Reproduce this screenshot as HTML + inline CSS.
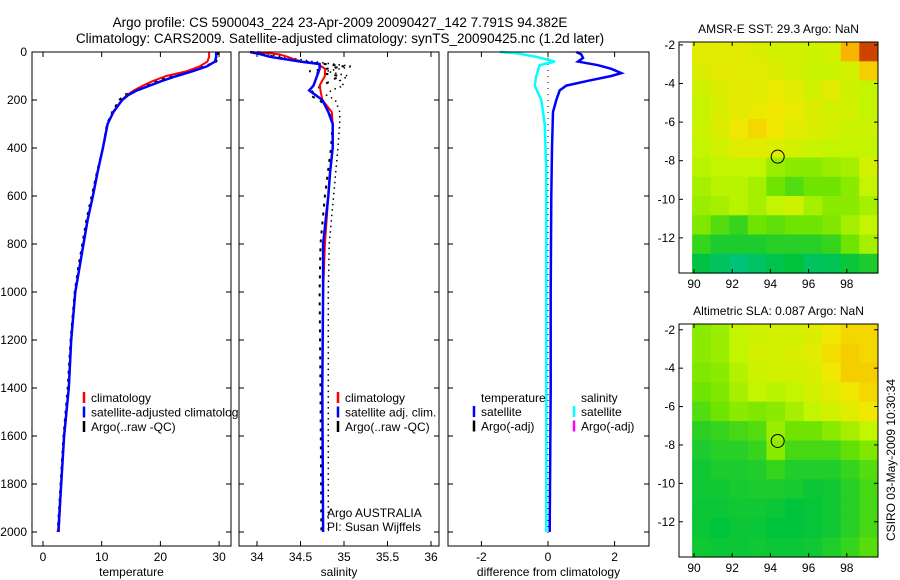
<!DOCTYPE html>
<html><head><meta charset="utf-8"><style>
body{margin:0;background:#fff}
svg{display:block;font-family:"Liberation Sans",sans-serif}
</style></head><body>
<svg id="fig" width="900" height="580" viewBox="0 0 900 580">
<text x="340" y="27" font-size="13.5" text-anchor="middle">Argo profile: CS 5900043_224 23-Apr-2009 20090427_142 7.791S 94.382E</text>
<text x="340" y="43" font-size="13.5" text-anchor="middle">Climatology: CARS2009. Satellite-adjusted climatology: synTS_20090425.nc (1.2d later)</text>
</svg>
<script>
const depths=[0,20,40,60,80,100,120,140,160,180,200,250,300,400,500,600,700,800,900,1000,1200,1400,1600,1800,2000];
const tempClim=[28.3,28.3,28.0,26.7,24.5,21,18.8,17,15.5,14.3,13.4,12,11,10.2,9.3,8.5,7.6,6.9,6.2,5.5,4.8,4.4,3.6,3.1,2.7];
const tempSat=[29.5,29.5,29.3,27.9,25.5,22.8,20.3,18.2,16,14.5,13.5,12,11,10.2,9.3,8.5,7.6,6.9,6.2,5.5,4.8,4.4,3.6,3.1,2.6];
const tempArgo=[29.8,29.8,29.5,27.5,25,22,19.5,17.5,15.8,13.8,13,11.8,10.9,10.2,9.2,8.3,7.4,6.7,6,5.4,4.7,4.2,3.5,3.0,2.5];
const salDepths=[0,10,20,40,50,70,100,140,160,200,250,300,400,500,600,800,1000,1400,2000];
const salClim=[34.0,34.26,34.35,34.5,34.7,34.78,34.78,34.72,34.73,34.75,34.86,34.87,34.87,34.84,34.82,34.78,34.76,34.75,34.76];
const salSat=[33.92,34.05,34.15,34.5,34.72,34.72,34.69,34.65,34.6,34.75,34.82,34.87,34.87,34.84,34.82,34.76,34.76,34.75,34.76];
const argoSalDepths=[0,20,40,60,80,100,120,140,160,180,200,250,300,400,600,800,1000,1400,2000];
const salArgo=[33.95,34.2,34.55,35.0,34.6,34.95,34.85,34.75,34.65,34.6,34.72,34.85,34.87,34.85,34.78,34.73,34.72,34.73,34.74];
const salRaw=[34.0,34.3,34.65,35.1,34.8,35.05,34.95,35.0,34.85,34.8,34.9,34.95,34.95,34.93,34.88,34.83,34.82,34.82,34.82];
const diffDepths=[0,10,25,40,55,70,88,100,120,140,160,200,250,400,600,1000,1400,2000];
const diffTempSat=[0.85,1.0,1.05,0.9,1.5,1.9,2.2,1.9,1.2,0.55,0.35,0.25,0.15,0.12,0.1,0.08,0.08,0.05];
const diffSalDepths=[0,5,20,40,55,100,140,200,300,500,1000,1500,2000];
const diffSalSat=[-1.45,-0.95,-0.35,0.2,-0.25,-0.35,-0.4,-0.2,-0.1,-0.05,-0.05,-0.05,-0.05];
const yTicks=[0,200,400,600,800,1000,1200,1400,1600,1800,2000];
const tempTicks=[0,10,20,30];
const salTicks=[34,34.5,35,35.5,36];
const salTickLabels=["34","34.5","35","35.5","36"];
const diffTicks=[-2,0,2];
const lonTicks=[90,92,94,96,98];
const latTicks=[-2,-4,-6,-8,-10,-12];
const sstGrid=[
[6.5,6.5,6.5,6.3,6,6,5.8,6,8,9.5],
[6.3,6.6,6.5,6.5,6.3,6,5.7,5.7,6,7.5],
[5.8,6.3,6.6,6.5,6.8,6.5,6,6.5,5.8,5.5],
[5.6,6.2,6.6,6.8,7,6.8,6.3,6,6,5.5],
[5.7,6.3,7,7.3,7,6.5,6.3,6,5.7,5.7],
[5.5,6,6.5,6.5,6.3,6,5.7,5.5,5.5,5.5],
[5.3,5.5,5.5,5.5,4.8,4.5,4.5,4.8,5,6],
[5,5.3,5.3,5,4,3.5,4,4,4.5,5.5],
[4.8,5,5.3,5,5.5,5.8,5,4.5,4.5,5],
[4.3,3.5,3,4,3.7,4,4,4.3,5,5.5],
[3,2.5,2.5,2.5,2.7,2.7,2.7,3,4,5],
[1.8,1.3,0.8,1.2,1.7,2,1.3,1.5,2.2,2.5]];
const slaGrid=[
[4.5,4.8,5.5,5.8,6,6,6.3,7,7.3,7.3],
[4.5,4.8,5.5,6,6,6.2,6.5,7.2,7.5,7.3],
[4.3,4.5,5.2,5.8,6,6,6.2,7,7.5,7.5],
[4,4.3,5,5.5,5.3,5.5,6,6.5,7,7.3],
[3.5,4,4.5,4.3,4.5,5,5.5,6,6.5,7],
[2.8,3,3.3,3.5,4.8,4,4,4.5,5,5.5],
[2.5,2.7,2.7,3,4.5,3.3,3.3,3.3,3.8,4.3],
[2.3,2.5,2.5,2.6,3,2.6,2.6,2.6,3,3.5],
[2.3,2.3,2.4,2.5,2.5,2.4,2.2,2.3,2.7,3.3],
[2.2,2.2,2.3,2.3,2.2,2.0,2.1,2.3,2.7,3.3],
[2.2,2.0,2.2,2.2,2.0,2.0,2.1,2.3,2.7,3.3],
[2.3,2.2,2.2,2.3,2.2,2.2,2.3,2.6,3,3.6]];
const argoLon=94.382, argoLat=-7.791;

const NS="http://www.w3.org/2000/svg";
const svg=document.getElementById('fig');
function mk(tag,attrs,parent){const e=document.createElementNS(NS,tag);for(const k in attrs)e.setAttribute(k,attrs[k]);(parent||svg).appendChild(e);return e;}
const Y0=52,Y1=546;
const yScale=d=>52+d*0.24;
function panel(name,x0,x1,xs,ticks,labels,xlabel){
  const g=mk('g',{});
  
  
  mk('rect',{x:x0,y:Y0,width:x1-x0,height:Y1-Y0,fill:'#fff'},g);
  ticks.forEach((t,i)=>{const x=xs(t);
    mk('line',{x1:x,x2:x,y1:Y1,y2:Y1-5,stroke:'#000'},g);
    mk('line',{x1:x,x2:x,y1:Y0,y2:Y0+5,stroke:'#000'},g);
    const tx=mk('text',{x:x,y:Y1+15,'font-size':12,'text-anchor':'middle'},g);tx.textContent=labels[i];
    
    });
  yTicks.forEach(d=>{const y=yScale(d);
    mk('line',{x1:x0,x2:x0+5,y1:y,y2:y,stroke:'#000'},g);
    mk('line',{x1:x1,x2:x1-5,y1:y,y2:y,stroke:'#000'},g);});
  const xl=mk('text',{x:(x0+x1)/2,y:Y1+30,'font-size':12,'text-anchor':'middle'},g);xl.textContent=xlabel;
  
  
  return g;
}
function line(g,ds,vs,xs,color,w,dash,name){
  const p=mk('polyline',{points:ds.map((d,i)=>xs(vs[i]).toFixed(1)+','+yScale(d).toFixed(1)).join(' '),fill:'none',stroke:color,'stroke-width':w,'stroke-dasharray':dash||'none'},g);
  
  
}
function frame(g,x0,x1){mk('rect',{x:x0,y:Y0,width:x1-x0,height:Y1-Y0,fill:'none',stroke:'#000'},g);}
function legend(g,x,y,items){items.forEach((it,i)=>{const yy=y+i*14.5;
  mk('line',{x1:x,x2:x,y1:yy-10,y2:yy+1,stroke:it[1],'stroke-width':2.5},g);
  const t=mk('text',{x:x+7,y:yy,'font-size':12},g);t.textContent=it[0];
  
  });}

const tx=t=>43+t*5.87;
const p1=panel('temperature-panel',32,231,tx,tempTicks,tempTicks.map(String),'temperature');
yTicks.forEach(d=>{const t=mk('text',{x:27,y:yScale(d)+4,'font-size':12,'text-anchor':'end'});t.textContent=d;
  
  });
line(p1,depths,tempArgo,tx,'#000',2,'3,5','argo-temperature-line');
line(p1,depths,tempClim,tx,'#f00',2,'','climatology-temperature-line');
line(p1,depths,tempSat,tx,'#00f',2.5,'','satellite-temperature-line');
legend(p1,84,402,[['climatology','#f00'],['satellite-adjusted climatology','#00f'],['Argo(..raw -QC)','#000']]);
frame(p1,32,231);

const sx=s=>257+(s-34)*87;
const p2=panel('salinity-panel',239,439,sx,salTicks,salTickLabels,'salinity');
line(p2,argoSalDepths,salRaw,sx,'#000',1.5,'1.5,4','argo-raw-salinity-line');
line(p2,argoSalDepths,salArgo,sx,'#000',2,'3,6','argo-salinity-line');
line(p2,salDepths,salClim,sx,'#f00',2,'','climatology-salinity-line');
line(p2,salDepths,salSat,sx,'#00f',2.5,'','satellite-salinity-line');
legend(p2,338,402,[['climatology','#f00'],['satellite adj. clim.','#00f'],['Argo(..raw -QC)','#000']]);
const a1=mk('text',{x:327,y:517,'font-size':12},p2);a1.textContent='Argo AUSTRALIA';


const a2=mk('text',{x:327,y:531,'font-size':12},p2);a2.textContent='PI: Susan Wijffels';


frame(p2,239,439);

const dx=v=>548+v*33.3;
const p3=panel('difference-panel',448,649,dx,diffTicks,diffTicks.map(String),'difference from climatology');
mk('line',{x1:dx(0),x2:dx(0),y1:Y0,y2:Y1-10,stroke:'#000','stroke-dasharray':'1,5'},p3);
line(p3,diffDepths,diffTempSat,dx,'#00f',2.5,'','temperature-difference-line');
line(p3,diffSalDepths,diffSalSat,dx,'#0ff',2.5,'','salinity-difference-line');
const lt=mk('text',{x:481,y:402,'font-size':12},p3);lt.textContent='temperature';


const ls=mk('text',{x:581,y:402,'font-size':12},p3);ls.textContent='salinity';


legend(p3,474,416,[['satellite','#00f'],['Argo(-adj)','#000']]);
legend(p3,574,416,[['satellite','#0ff'],['Argo(-adj)','#f0f']]);
frame(p3,448,649);

const stops=[[0,[0,195,160]],[2,[0,195,60]],[4,[110,228,0]],[5.5,[195,245,0]],[7,[240,232,0]],[8,[250,180,0]],[10,[190,30,0]]];
function cmap(v){for(let i=1;i<stops.length;i++){if(v<=stops[i][0]){const a=stops[i-1],b=stops[i],f=(v-a[0])/(b[0]-a[0]);
  return 'rgb('+a[1].map((c,k)=>Math.round(c+(b[1][k]-c)*f)).join(',')+')';}}return 'rgb(190,30,0)';}
function map(name,title,grid,top,bottom,latTop,pxDeg){
  const g=mk('g',{});
  
  
  const L=679,R=878,lonX=lon=>694+(lon-90)*19.1,latY=lat=>top+(latTop-lat)*pxDeg;
  const lon0=89.9,lon1=99.63,lat0=latTop,lat1=latTop-(bottom-top)/pxDeg;
  const nr=grid.length,nc=grid[0].length,dl=(lon1-lon0)/nc,dt=(lat0-lat1)/nr;
  grid.forEach((row,r)=>row.forEach((v,c)=>{
    const x=lonX(lon0+c*dl),y=latY(lat0-r*dt);
    const cell=mk('rect',{x:x.toFixed(1),y:y.toFixed(1),width:(dl*19.1+0.6).toFixed(1),height:(dt*pxDeg+0.6).toFixed(1),fill:cmap(v)},g);
    
    }));
  mk('rect',{x:L,y:top,width:R-L,height:bottom-top,fill:'none',stroke:'#000'},g);
  lonTicks.forEach(lon=>{const x=lonX(lon);
    mk('line',{x1:x,x2:x,y1:bottom,y2:bottom-4,stroke:'#000'},g);
    mk('line',{x1:x,x2:x,y1:top,y2:top+4,stroke:'#000'},g);
    const t=mk('text',{x:x,y:bottom+15,'font-size':12,'text-anchor':'middle'},g);t.textContent=lon;
    
    });
  latTicks.forEach(lat=>{const y=latY(lat);
    mk('line',{x1:L,x2:L+4,y1:y,y2:y,stroke:'#000'},g);
    mk('line',{x1:R,x2:R-4,y1:y,y2:y,stroke:'#000'},g);
    const t=mk('text',{x:L-4,y:y+4,'font-size':12,'text-anchor':'end'},g);t.textContent=lat;
    
    });
  const c=mk('circle',{cx:lonX(argoLon),cy:latY(argoLat),r:6.5,fill:'none',stroke:'#000'},g);
  
  
  const tt=mk('text',{x:(L+R)/2,y:top-9,'font-size':12,'text-anchor':'middle'},g);tt.textContent=title;
  
  
}
map('sst-map','AMSR-E SST: 29.3 Argo: NaN',sstGrid,42,273,-1.85,19.3);
map('sla-map','Altimetric SLA: 0.087 Argo: NaN',slaGrid,324,557,-1.7,19.2);
const cs=mk('text',{x:0,y:0,'font-size':12,'text-anchor':'middle',transform:'translate(895,460) rotate(-90)'});
cs.textContent='CSIRO 03-May-2009 10:30:34';


</script>
</body></html>
